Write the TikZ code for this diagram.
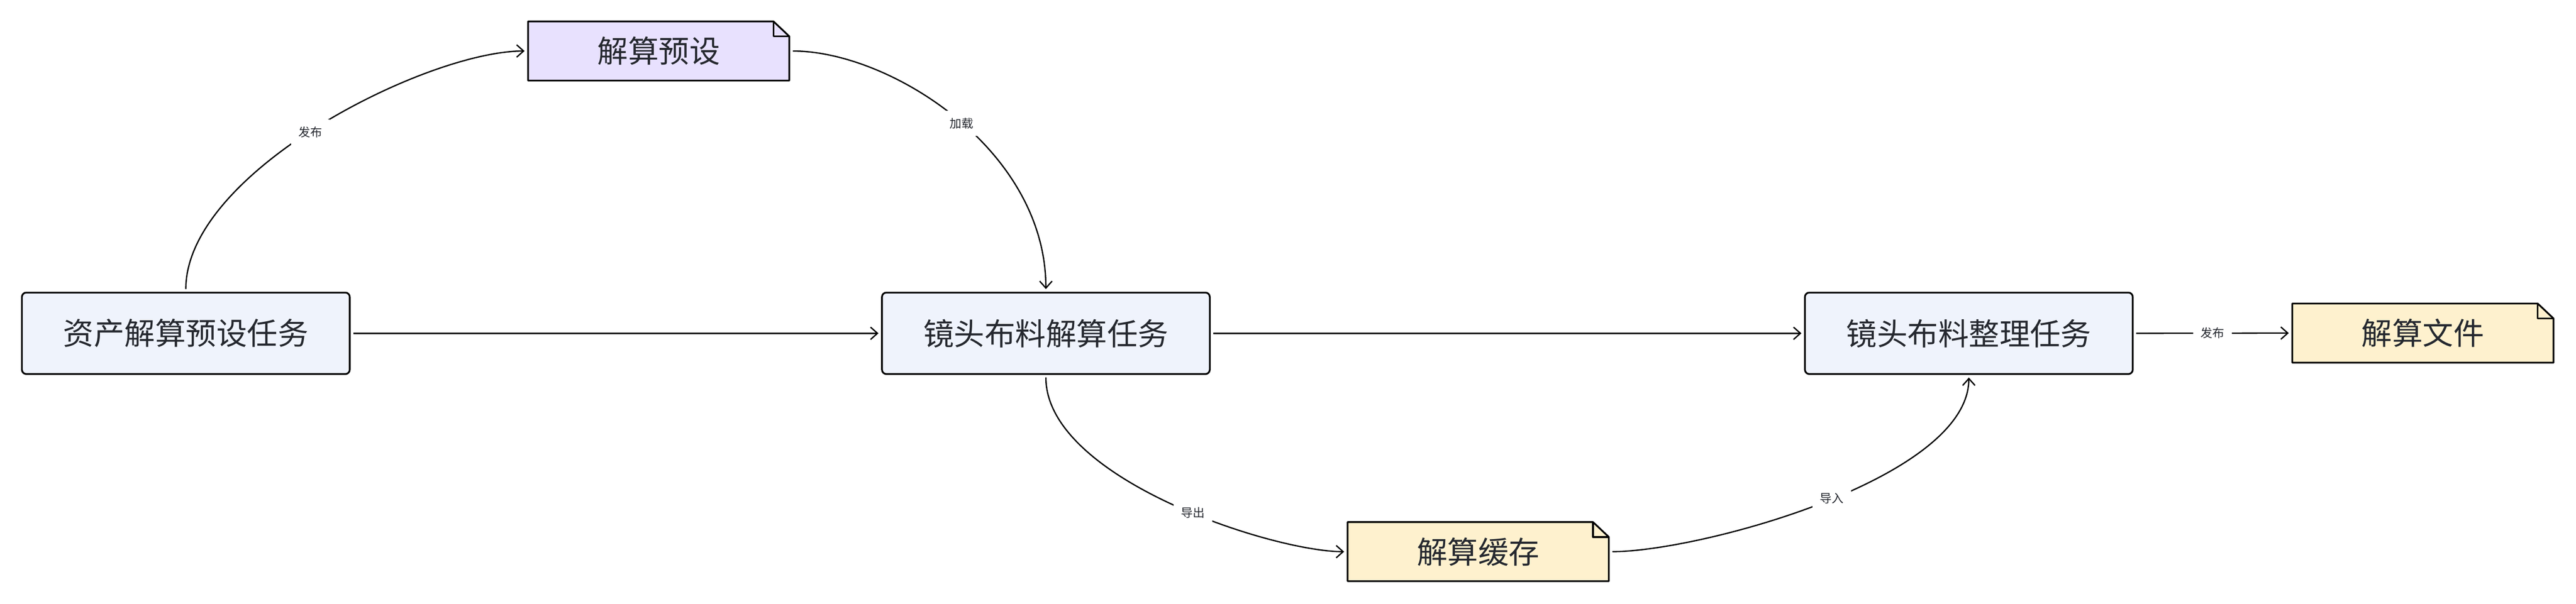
\documentclass[tikz,border=0pt]{standalone}
\usepackage{fontspec}
\newfontfamily\cjk{Noto Sans CJK SC}
\usepackage{xcolor}
\usepackage{tikz}
\usetikzlibrary{arrows.meta,positioning,calc,backgrounds}

\definecolor{taskfill}{HTML}{EFF3FC}
\definecolor{presetfill}{HTML}{E8E1FE}
\definecolor{filefill}{HTML}{FEF1CE}
\definecolor{inkdark}{HTML}{25282F}

\tikzset{
    task/.style={draw=black, line width=1.13pt, rounded corners=0.1cm, fill=taskfill, outer sep=0pt,
        minimum width=7.48cm, minimum height=1.86cm, font=\cjk\fontsize{19.9}{24}\selectfont, text=inkdark},
    doc/.style={minimum width=5.96cm, minimum height=1.35cm, outer sep=0pt,
        font=\cjk\fontsize{19.9}{24}\selectfont, text=inkdark},
    docbody/.style={draw=black, line width=1.13pt, line join=round},
    flow/.style={-{Straight Barb[length=4.5pt,width=8pt]}, line width=0.85pt,
        shorten <=0.08cm, shorten >=0.08cm},
    lbl/.style={fill=white, font=\cjk\fontsize{7.7}{9}\selectfont, text=inkdark,
        inner xsep=0.17cm, inner ysep=0cm, minimum height=0.58cm}
}

\begin{document}
\begin{tikzpicture}
    \useasboundingbox (0,0) rectangle (58.78,13.78);

    % Tasks and files
    \node[task] (asset) at (4.24, 6.17) {资产解算预设任务};
    \node[doc] (preset) at (15.03, 12.615) {解算预设};
    \node[task] (shot) at (23.865, 6.17) {镜头布料解算任务};
    \node[doc] (cache) at (33.73, 1.185) {解算缓存};
    \node[task] (tidy) at (44.925, 6.17) {镜头布料整理任务};
    \node[doc] (output) at (55.285, 6.175) {解算文件};

    % Note bodies with folded corner
    \begin{scope}[on background layer]
        \fill[white] (0,0) rectangle (58.78,13.78);
        \foreach \n/\c in {preset/presetfill, cache/filefill, output/filefill} {
            \draw[docbody, fill=\c] ($(\n.north east)+(-0.36,0)$) -- ($(\n.north east)+(0,-0.34)$)
                |- (\n.south west) |- cycle;
            \draw[docbody] ($(\n.north east)+(-0.36,0)$) |- ($(\n.north east)+(0,-0.34)$);
        }
    \end{scope}

    % Flows
    \draw[flow] (asset.north) .. controls +(0,2.76) and +(-2.31,0) .. node[lbl, pos=0.48]{发布} (preset.west);
    \draw[flow] (preset.east) .. controls +(2.3,0) and +(0,3.26) .. node[lbl, pos=0.52]{加载} (shot.north);
    \draw[flow] (asset.east) -- (shot.west);
    \draw[flow] (shot.east) -- (tidy.west);
    \draw[flow] (shot.south) .. controls +(0,-2.39) and +(-1.7,0) .. node[lbl, pos=0.56]{导出} (cache.west);
    \draw[flow] (cache.east) .. controls +(2.05,0) and +(0,-2.39) .. node[lbl, pos=0.52]{导入} (tidy.south);
    \draw[flow] (tidy.east) -- node[lbl]{发布} (output.west);
\end{tikzpicture}
\end{document}
